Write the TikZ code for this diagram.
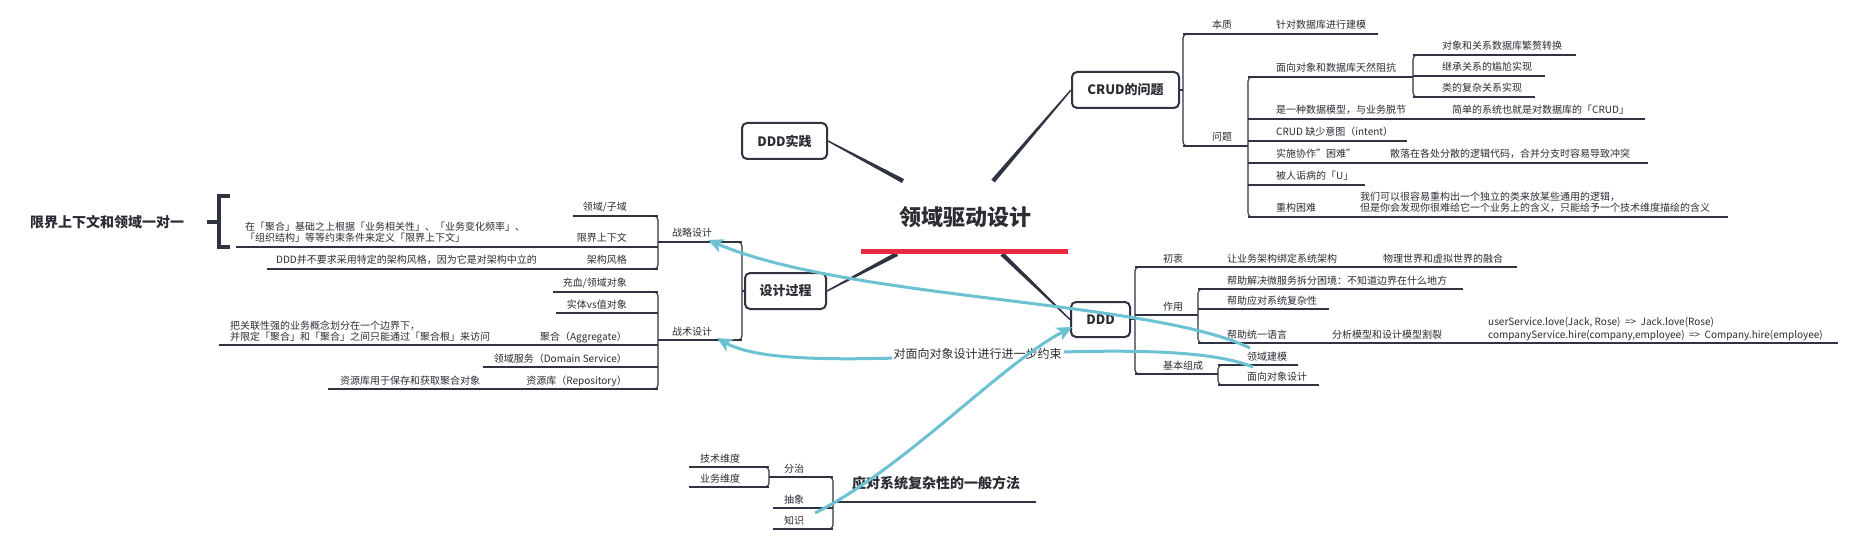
\documentclass[tikz,border=0pt]{standalone}
\usepackage{fontspec}
\setmainfont{Noto Sans CJK SC}
\usetikzlibrary{calc,arrows.meta,backgrounds}
\definecolor{dk}{HTML}{2F3440}
\definecolor{tc}{HTML}{2B2D33}
\definecolor{bl}{HTML}{6CC2D3}
\definecolor{rd}{HTML}{E8293F}
\tikzset{
  ln/.style={draw=dk, line width=1.1pt},
  brk/.style={ln, rounded corners=4pt},
  tx/.style={font=\fontsize{10}{12}\selectfont, text=tc, inner sep=0pt, anchor=base west, yshift=5pt},
  txr/.style={tx, anchor=base east},
  txtwo/.style={tx, yshift=11pt},
  txcode/.style={tx, yshift=12.5pt},
  topicbox/.style={draw=dk, line width=2pt, rounded corners=5pt, fill=white, text=tc, inner sep=0pt,
    font=\bfseries\fontsize{13}{13}\selectfont},
  bigtext/.style={font=\bfseries\fontsize{14}{14}\selectfont, text=tc, inner sep=0pt},
  arr/.style={draw=bl, line width=3pt, -{Stealth[length=15pt,width=14pt,inset=4pt]}},
}
\newcommand\brR[3]{\draw[brk] ({#1+9},#2) -- (#1,#2) -- (#1,#3) -- ({#1+9},#3);}
\newcommand\brL[3]{\draw[brk] ({#1-9},#2) -- (#1,#2) -- (#1,#3) -- ({#1-9},#3);}
\newcommand\ul[3]{\draw[ln] (#1,#3) -- (#2,#3);}
\newcommand\taper[2]{\fill[dk] ($(#1)!2.2pt!90:(#2)$) -- ($(#1)!2.2pt!-90:(#2)$) -- ($(#2)!0.7pt!90:(#1)$) -- ($(#2)!0.7pt!-90:(#1)$) -- cycle;}
\begin{document}
\begin{tikzpicture}[x=1pt,y=-1pt]
\useasboundingbox (0,0) rectangle (1854,545);
\begin{scope}[on background layer]
\fill[white] (0,0) rectangle (1854,545);
\end{scope}

% ---- central topic
\node[font=\bfseries\fontsize{22}{22}\selectfont, text=tc, inner sep=0pt] (root) at (965,217) {领域驱动设计};
\node[fill=rd, minimum width=207pt, minimum height=5pt, inner sep=0pt] (bar) at (964.5,251.5) {};
\coordinate (rtl) at (903,181);
\coordinate (rtr) at (993,181);
\coordinate (rbl) at (897,254);
\coordinate (rbr) at (1002,254);

% ---- main boxes
\node[topicbox, minimum width=85pt, minimum height=36pt] (prac) at (784.5,141) {DDD实践};
\node[topicbox, minimum width=107pt, minimum height=36pt] (crud) at (1125.5,90) {CRUD的问题};
\node[topicbox, minimum width=81pt, minimum height=36pt] (proc) at (785.5,291) {设计过程};
\node[topicbox, minimum width=59pt, minimum height=35pt] (ddd) at (1100.5,319.5) {DDD};

\begin{scope}[on background layer]
\taper{rtl}{prac.east}
\taper{rtr}{crud.west}
\taper{rbl}{proc.east}
\taper{rbr}{ddd.west}
\end{scope}

% ---- CRUD的问题
\draw[ln] (crud.east) -- (1183,90);
\brR{1183}{34}{146}
\node[tx] (bz) at (1212,34) {本质};
\node[tx] (bzd) at (1276,34) {针对数据库进行建模};
\ul{1183}{1378}{34}
\node[tx] (wt) at (1212,146) {问题};
\ul{1183}{1248}{146}
\brR{1248}{77}{217}
\node[tx] (zk) at (1276,77) {面向对象和数据库天然阻抗};
\ul{1248}{1413}{77}
\brR{1413}{55}{97}
\node[tx] (zka) at (1442,55) {对象和关系数据库繁赘转换};
\ul{1413}{1576}{55}
\node[tx] (zkb) at (1442,76) {继承关系的尴尬实现};
\ul{1413}{1545}{76}
\node[tx] (zkc) at (1442,97) {类的复杂关系实现};
\ul{1413}{1535}{97}
\node[tx] (sj) at (1276,119) {是一种数据模型，与业务脱节};
\node[tx] (sjd) at (1452,119) {简单的系统也就是对数据库的「CRUD」};
\ul{1248}{1645}{119}
\node[tx] (yt) at (1276,141) {CRUD 缺少意图（intent）};
\ul{1248}{1407}{141}
\node[tx] (xz) at (1276,163) {实施协作"困难"};
\node[tx] (xzd) at (1390,163) {散落在各处分散的逻辑代码，合并分支时容易导致冲突};
\ul{1248}{1648}{163}
\node[tx] (uu) at (1276,185) {被人诟病的「U」};
\ul{1248}{1365}{185}
\node[tx] (cg) at (1276,217) {重构困难};
\node[txtwo] (cgda) at (1360,217) {我们可以很容易重构出一个独立的类来放某些通用的逻辑，};
\node[tx] (cgdb) at (1360,217) {但是你会发现你很难给它一个业务上的含义，只能给予一个技术维度描绘的含义};
\ul{1248}{1728}{217}

% ---- DDD
\draw[ln] (ddd.east) -- (1135,319.5);
\brR{1135}{267}{374}
\node[tx] (cz) at (1163,267) {初衷};
\node[tx] (czd) at (1227,267) {让业务架构绑定系统架构};
\node[tx] (czdb) at (1383,267) {物理世界和虚拟世界的融合};
\ul{1135}{1517}{267}
\node[tx] (zy) at (1163,315) {作用};
\ul{1135}{1198}{315}
\brR{1198}{289}{343}
\node[tx] (zya) at (1227,289) {帮助解决微服务拆分困境：不知道边界在什么地方};
\ul{1198}{1463}{289}
\node[tx] (zyb) at (1227,309) {帮助应对系统复杂性};
\ul{1198}{1329}{309}
\node[tx] (zyc) at (1227,343) {帮助统一语言};
\node[tx] (zycd) at (1332,343) {分析模型和设计模型割裂};
\node[txcode] (codea) at (1488,343) {userService.love(Jack, Rose)\ \ =>\ \ Jack.love(Rose)};
\node[tx] (codeb) at (1488,343) {companyService.hire(company,employee)\ \ =>\ \ Company.hire(employee)};
\ul{1198}{1838}{343}
\node[tx] (jb) at (1163,374) {基本组成};
\ul{1135}{1218}{374}
\brR{1218}{365}{385}
\node[tx] (lyjm) at (1247,365) {领域建模};
\ul{1218}{1298}{365}
\node[tx] (mxdx) at (1247,385) {面向对象设计};
\ul{1218}{1319}{385}

% ---- 设计过程
\draw[ln] (proc.west) -- (742,291);
\brL{742}{242}{340}
\node[tx] (zl) at (672,242) {战略设计};
\ul{658}{742}{242}
\node[tx] (zs) at (672,340) {战术设计};
\ul{658}{742}{340}
\brL{658}{216}{269}
\node[txr] (ly) at (627,216) {领域/子域};
\ul{573}{658}{216}
\node[txr] (xj) at (627,247) {限界上下文};
\node[txtwo] (xjda) at (245,247) {在「聚合」基础之上根据「业务相关性」、「业务变化频率」、};
\node[tx] (xjdb) at (245,247) {「组织结构」等等约束条件来定义「限界上下文」};
\ul{236}{658}{247}
\node[txr] (jg) at (627,269) {架构风格};
\node[tx] (jgd) at (276,269) {DDD并不要求采用特定的架构风格，因为它是对架构中立的};
\ul{267}{658}{269}
\brL{658}{292}{389}
\node[txr] (cx) at (627,292) {充血/领域对象};
\ul{553}{658}{292}
\node[txr] (st) at (627,313) {实体vs值对象};
\ul{556}{658}{313}
\node[txr] (jh) at (627,345) {聚合（Aggregate）};
\node[txtwo] (jhda) at (230,345) {把关联性强的业务概念划分在一个边界下，};
\node[tx] (jhdb) at (230,345) {并限定「聚合」和「聚合」之间只能通过「聚合根」来访问};
\ul{219}{658}{345}
\node[txr] (fw) at (627,367) {领域服务（Domain Service）};
\ul{483}{658}{367}
\node[txr] (zyk) at (627,389) {资源库（Repository）};
\node[tx] (zykd) at (340,389) {资源库用于保存和获取聚合对象};
\ul{328}{658}{389}

% ---- 限界上下文和领域一对一
\node[bigtext] (yy) at (107,222) {限界上下文和领域一对一};
\draw[dk, line width=4pt] (230,196) -- (219,196) -- (219,247) -- (230,247);
\draw[dk, line width=4pt] (207,222) -- (219,222);

% ---- 应对系统复杂性的一般方法
\node[bigtext] (fx) at (936,483) {应对系统复杂性的一般方法};
\draw[dk, line width=2.5pt] (835,502) -- (1036,502);
\brL{833}{477}{529}
\node[tx] (fz) at (784,477) {分治};
\ul{769}{833}{477}
\brL{769}{467}{487}
\node[tx] (jswd) at (700,467) {技术维度};
\ul{689}{769}{467}
\node[tx] (ywwd) at (700,487) {业务维度};
\ul{689}{769}{487}
\node[tx] (cxa) at (784,508) {抽象};
\ul{773}{833}{508}
\node[tx] (zsb) at (784,529) {知识};
\ul{773}{833}{529}

% ---- blue relation arrows
\coordinate (aas) at (1250,348);
\coordinate (aae) at (708,240);
\coordinate (abs) at (1253,367);
\coordinate (abe) at (717,338);
\coordinate (acs) at (815,513);
\coordinate (ace) at (1072,327);
\draw[arr] (aas) .. controls (1150,300) and (850,300) .. (aae);
\draw[arr] (abs) .. controls (1150,325) and (800,385) .. (abe)
  node[pos=0.5, fill=white, inner sep=2pt, text=tc, font=\fontsize{12}{12}\selectfont] (lbl) {对面向对象设计进行进一步约束};
\draw[arr] (acs) .. controls (905,468) and (1000,365) .. (ace);
\end{tikzpicture}
\end{document}
